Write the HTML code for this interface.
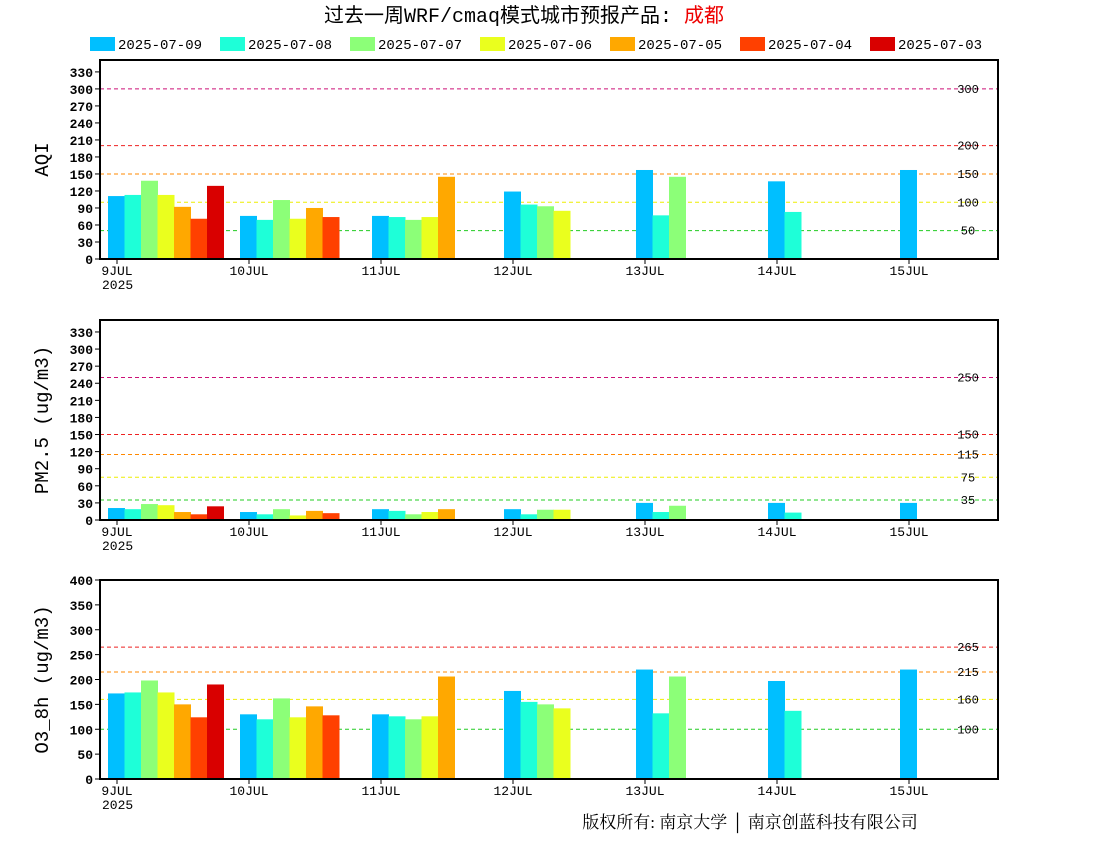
<!DOCTYPE html>
<html><head><meta charset="utf-8"><style>
body{margin:0;background:#fff;}
svg text{font-family:"Liberation Mono","DejaVu Sans Mono",monospace;}
</style></head><body>
<svg id="chart" width="1100" height="850" xmlns="http://www.w3.org/2000/svg">
<text x="524" y="22" text-anchor="middle" font-size="20" style="font-family:'Liberation Mono','Noto Sans CJK SC',monospace">过去一周WRF/cmaq模式城市预报产品: <tspan fill="#e00">成都</tspan></text>
<g id="legend"></g>
<g id="panels"></g>
<text x="750" y="828" text-anchor="middle" font-size="17" style="font-family:'Liberation Serif','Noto Serif CJK SC',serif">版权所有: 南京大学 │ 南京创蓝科技有限公司</text>
</svg>
<script>
const seriesNames=["2025-07-09","2025-07-08","2025-07-07","2025-07-06","2025-07-05","2025-07-04","2025-07-03"];
const seriesColors=["#00bfff","#1effd8","#8cff78","#eaff1e","#ffa800","#ff4000","#d90000"];
const dayLabels=["9JUL","10JUL","11JUL","12JUL","13JUL","14JUL","15JUL"];
const aqiValues=[[111,113,138,113,92,71,129],[76,69,104,71,90,74],[76,74,69,74,145],[119,96,93,85],[157,77,145],[137,83],[157]];
const pm25Values=[[21,19,28,26,14,10,24],[14,10,19,8,16,12],[19,16,10,14,19],[19,10,18,18],[30,14,25],[30,13],[30]];
const o3Values=[[172,174,198,174,150,124,190],[130,120,162,124,146,128],[130,126,120,126,206],[177,155,150,142],[220,132,206],[197,137],[220]];
const aqiTicks=[0,30,60,90,120,150,180,210,240,270,300,330];
const o3Ticks=[0,50,100,150,200,250,300,350,400];
const aqiRefs=[50,100,150,200,300];
const pm25Refs=[35,75,115,150,250];
const o3Refs=[100,160,215,265];
const refColors=["#22cc22","#eeee00","#ff8800","#ee2222","#cc1177"];
const NS="http://www.w3.org/2000/svg";
const svg=document.getElementById('chart');
function mk(tag,attrs,parent){const e=document.createElementNS(NS,tag);for(const k in attrs)e.setAttribute(k,attrs[k]);(parent||svg).appendChild(e);return e;}
const lg=document.getElementById('legend');
seriesNames.forEach((n,i)=>{const x=90+130*i;
 const r=mk('rect',{x:x,y:37,width:25,height:14,fill:seriesColors[i]},lg);
 
 
 const t=mk('text',{x:x+28,y:49,'font-size':14},lg);t.textContent=n;
 
 
});
const L=100,R=998,dayW=132,tick0=117,barW=16.5;
function xDay(d){return tick0+d*dayW;}
function panel(name,top,bottom,ymax,ticks,refs,vals,ytitle){
 const g=mk('g',{});
 
 
 const y=v=>bottom-(v/ymax)*(bottom-top);
 refs.forEach((v,i)=>{const l=mk('line',{x1:L,x2:R,y1:y(v),y2:y(v),stroke:refColors[i],'stroke-width':1,'stroke-dasharray':'4,3'},g);
  
  
  const t=mk('text',{x:968,y:y(v)+4,'font-size':12,'text-anchor':'middle'},g);t.textContent=v;
  
  });
 vals.forEach((arr,d)=>arr.forEach((v,i)=>{const yy=y(v);
  const b=mk('rect',{x:xDay(d)-9+i*barW,y:yy,width:barW+0.5,height:bottom-yy,fill:seriesColors[i]},g);
  
  }));
 const f=mk('rect',{x:L,y:top,width:R-L,height:bottom-top,fill:'none',stroke:'#000','stroke-width':2},g);
 
 
 ticks.forEach(v=>{mk('line',{x1:L-5,x2:L,y1:y(v),y2:y(v),stroke:'#000'},g);
  const t=mk('text',{x:L-7,y:y(v)+5,'font-size':13,'font-weight':'bold','text-anchor':'end'},g);t.textContent=v;
  
  });
 dayLabels.forEach((s,d)=>{const x=xDay(d);mk('line',{x1:x,x2:x,y1:bottom,y2:bottom+5,stroke:'#000'},g);
  const t=mk('text',{x:x,y:bottom+16,'font-size':13,'text-anchor':'middle'},g);t.textContent=s;
  
  });
 const yr=mk('text',{x:102,y:bottom+30,'font-size':13},g);yr.textContent='2025';
 
 
 const cy=(top+bottom)/2;
 const yt=mk('text',{x:48,y:cy,'font-size':19,'text-anchor':'middle',transform:'rotate(-90 48 '+cy+')',style:"font-family:'Liberation Mono',monospace"},g);yt.textContent=ytitle;
 
 
}
panel('aqi',60,259,351,aqiTicks,aqiRefs,aqiValues,'AQI');
panel('pm25',320,520,351,aqiTicks,pm25Refs,pm25Values,'PM2.5 (ug/m3)');
panel('o3',580,779,400,o3Ticks,o3Refs,o3Values,'O3_8h (ug/m3)');
</script>
</body></html>
